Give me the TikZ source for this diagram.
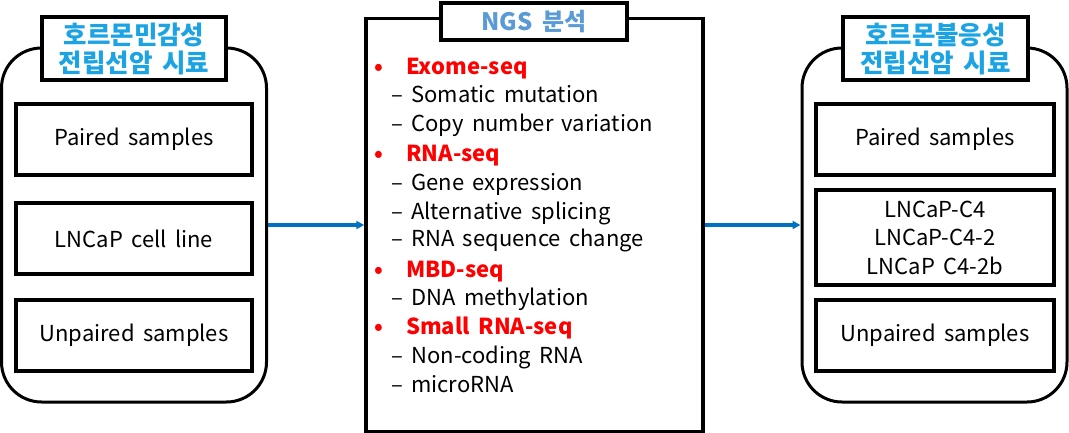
\documentclass[tikz,border=0pt]{standalone}
\usepackage{fontspec}
\setmainfont[WordSpace=1.7]{Noto Sans CJK KR}
\usetikzlibrary{arrows.meta}
\definecolor{ttl}{HTML}{1CA3E3}
\definecolor{ngs}{HTML}{5B9BD5}
\definecolor{arr}{HTML}{0070C0}
\definecolor{hd}{HTML}{FF0000}
\begin{document}
\begin{tikzpicture}[x=1pt,y=-1pt,
  container/.style={draw,line width=3pt,rounded corners=40pt,inner sep=0pt},
  titlebox/.style={draw,fill=white,line width=3.5pt,inner sep=0pt,align=center,text=ttl,font=\fontsize{25.5}{28}\selectfont\bfseries},
  itembox/.style={draw,line width=3.5pt,inner sep=0pt,align=center,font=\fontsize{22}{28.5}\selectfont},
  mainbox/.style={draw,line width=3.5pt,inner sep=0pt},
  head/.style={anchor=base west,inner sep=0pt,text=hd,font=\fontsize{22}{25}\selectfont\bfseries},
  bul/.style={anchor=base,inner sep=0pt,text=hd,font=\fontsize{22}{25}\selectfont\bfseries},
  sub/.style={anchor=base west,inner sep=0pt,font=\fontsize{22}{25}\selectfont},
  flow/.style={draw=arr,line width=3.5pt,-{Triangle[length=8pt,width=8pt]}}]
\useasboundingbox (0,0) rectangle (1069,433);
% left container
\node[container,minimum width=265pt,minimum height=354pt] (L) at (134,225) {};
\node[titlebox,minimum width=184pt,minimum height=63pt] (Lt) at (134,48.5) {호르몬민감성\\전립선암 시료};
\node[itembox,minimum width=236pt,minimum height=71pt] (L1) at (134,139.5) {Paired samples};
\node[itembox,minimum width=236pt,minimum height=71pt] (L2) at (134,238.5) {LNCaP cell line};
\node[itembox,minimum width=236pt,minimum height=71pt] (L3) at (134,335.5) {Unpaired samples};
% right container
\node[container,minimum width=265pt,minimum height=354pt] (R) at (934.5,225) {};
\node[titlebox,minimum width=185pt,minimum height=63pt] (Rt) at (935.5,48.5) {호르몬불응성\\전립선암 시료};
\node[itembox,minimum width=238pt,minimum height=71pt] (R1) at (935,139.5) {Paired samples};
\node[itembox,minimum width=238pt,minimum height=95pt] (R2) at (935,237.5) {LNCaP-C4\\LNCaP-C4-2\\LNCaP C4-2b};
\node[itembox,minimum width=238pt,minimum height=71pt] (R3) at (935,335.5) {Unpaired samples};
% middle
\node[mainbox,minimum width=337pt,minimum height=413pt] (M) at (534.5,225) {};
\node[titlebox,text=ngs,font=\fontsize{24}{26}\selectfont\bfseries,minimum width=186pt,minimum height=37pt] (Mt) at (534,21.5) {NGS 분석};
\node[bul] (b1) at (379,75) {•};
\node[head] (h1) at (406,75) {Exome-seq};
\node[sub] (s1) at (391,103) {– Somatic mutation};
\node[sub] (s2) at (391,132) {– Copy number variation};
\node[bul] (b2) at (379,162) {•};
\node[head] (h2) at (406,162) {RNA-seq};
\node[sub] (s3) at (391,191) {– Gene expression};
\node[sub] (s4) at (391,219) {– Alternative splicing};
\node[sub] (s5) at (391,247) {– RNA sequence change};
\node[bul] (b3) at (379,277) {•};
\node[head] (h3) at (406,277) {MBD-seq};
\node[sub] (s6) at (391,305) {– DNA methylation};
\node[bul] (b4) at (379,334) {•};
\node[head] (h4) at (406,334) {Small RNA-seq};
\node[sub] (s7) at (391,363) {– Non-coding RNA};
\node[sub] (s8) at (391,392) {– microRNA};
% arrows
\draw[flow] (L.east) -- (M.west);
\draw[flow] (M.east) -- (R.west);
\end{tikzpicture}
\end{document}
